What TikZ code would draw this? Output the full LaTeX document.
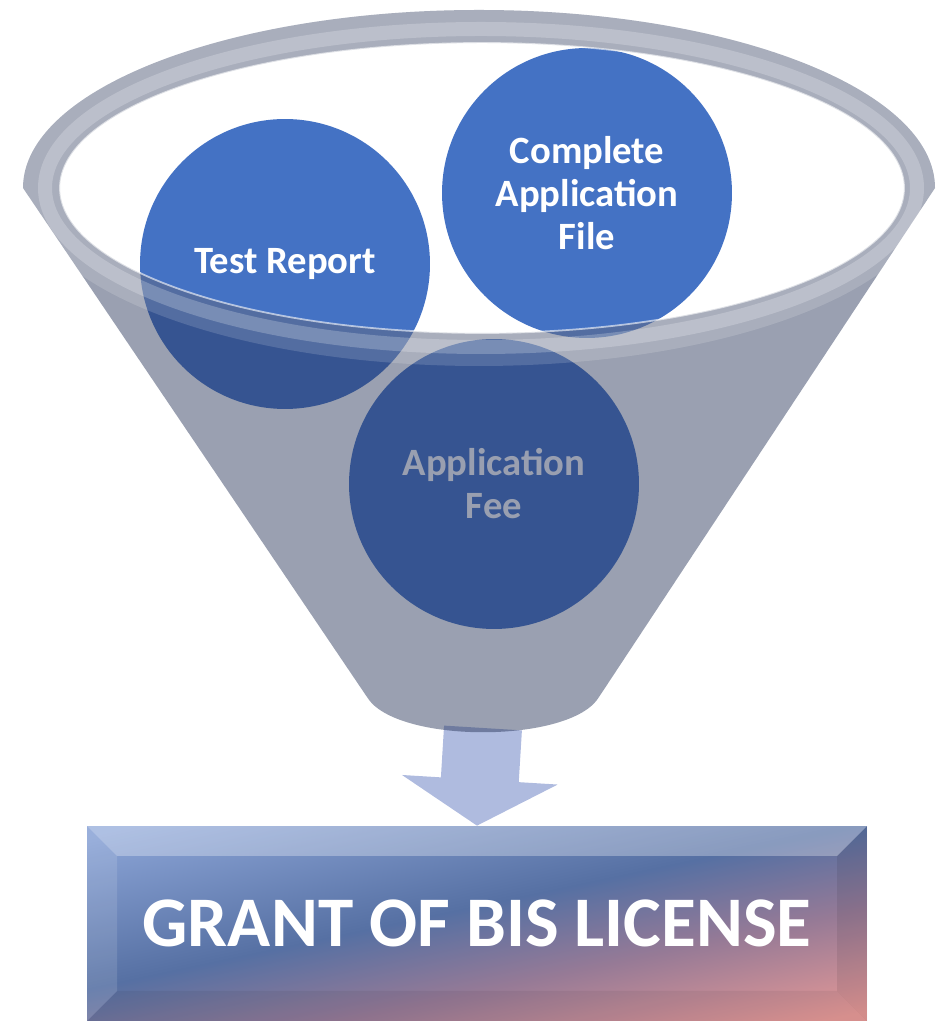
\documentclass[tikz,border=0pt]{standalone}
\usepackage{fontspec}
\setmainfont{Carlito}
\usetikzlibrary{arrows.meta}
\definecolor{circblue}{RGB}{68,114,196}
\definecolor{funnelgray}{RGB}{38,51,87}
\definecolor{arrowblue}{RGB}{175,187,223}
\definecolor{boxtop}{RGB}{140,165,215}
\definecolor{boxmid}{RGB}{86,112,163}
\definecolor{boxpurple}{RGB}{150,122,150}
\definecolor{boxbot}{RGB}{228,152,150}
\pgfdeclareverticalshading{boxgrad}{100bp}{color(0bp)=(boxbot); color(40bp)=(boxbot); color(46bp)=(boxpurple); color(51bp)=(boxmid); color(60bp)=(boxtop); color(100bp)=(boxtop)}
\tikzset{
	item/.style={circle, fill=circblue, text=white, minimum size=5.8cm, inner sep=0pt, align=center, font=\bfseries\fontsize{22}{24.5}\selectfont},
	licensebox/.style={rectangle, minimum width=15.6cm, minimum height=3.9cm, inner sep=0pt, fill=boxmid, text=white, font=\bfseries\fontsize{40.5}{48}\selectfont,
		path picture={\shade[shading=boxgrad, shading angle=12] ([shift={(-420,-420)}]path picture bounding box.center) rectangle ([shift={(420,420)}]path picture bounding box.center);}},
	flow/.style={arrowblue, line width=1.56cm, -{Triangle[width=3.08cm,length=0.92cm]}}
}
\begin{document}
\begin{tikzpicture}[x=0.02cm,y=0.02cm]
	\useasboundingbox (0,0) rectangle (945,1021);

	\node[item] (report) at (285,757) {Test Report};
	\node[item] (file) at (587,828) {Complete\\Application\\File};
	\node[item] (fee) at (494,537) {Application\\Fee};

	\node[licensebox] (grant) at (477,97.5) {GRANT OF BIS LICENSE};
	\coordinate (spout) at (483,293);
	\draw[flow] (spout) -- (grant.north);

	\fill[funnelgray, fill opacity=0.465, even odd rule]
		(23,833) arc[start angle=180, end angle=0, x radius=456, y radius=178]
		-- (599,324) .. controls (571,277) and (395,277) .. (367,324) -- cycle
		(482,833) ellipse [x radius=422, y radius=145];
	\fill[white, fill opacity=0.15, even odd rule] (479,833) ellipse [x radius=456, y radius=178] (482,833) ellipse [x radius=422, y radius=145];
	\draw[white, opacity=0.22, line width=0.28cm] (481,833) ellipse [x radius=436, y radius=159];
	\draw[white, opacity=0.6, line width=1pt] (482,833) ellipse [x radius=422, y radius=145];

	\fill[white, opacity=0.3] (87,195) -- (867,195) -- (837,165) -- (117,165) -- cycle;
	\fill[white, opacity=0.12] (87,195) -- (117,165) -- (117,30) -- (87,0) -- cycle;
	\fill[black, opacity=0.08] (867,195) -- (837,165) -- (837,30) -- (867,0) -- cycle;
	\fill[black, opacity=0.06] (87,0) -- (117,30) -- (837,30) -- (867,0) -- cycle;
\end{tikzpicture}
\end{document}
